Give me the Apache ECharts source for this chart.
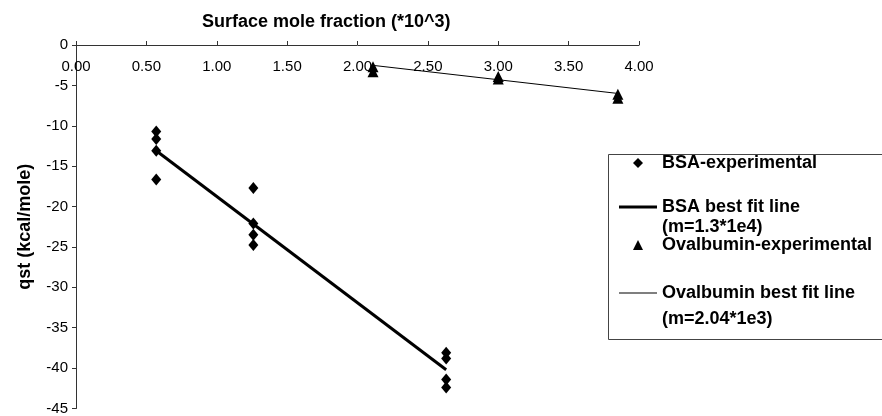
<!DOCTYPE html>
<html>
<head>
<meta charset="utf-8">
<script src="https://cdn.jsdelivr.net/npm/echarts@6/dist/echarts.min.js"></script>
<style>
  html, body { margin: 0; padding: 0; background: #fff; }
  #chart { width: 882px; height: 416px; }
</style>
</head>
<body>
<div id="chart"></div>
<script>
// values
const bsaExp = [
  [0.57, -10.7], [0.57, -11.65], [0.57, -13.1], [0.57, -16.65],
  [1.26, -17.7], [1.26, -22.1], [1.26, -23.5], [1.26, -24.75],
  [2.63, -38.1], [2.63, -38.8], [2.63, -41.4], [2.63, -42.4]
]
const bsaFit = [[0.57, -13.1], [2.63, -40.2]]
const ovaExp = [
  [2.11, -2.7], [2.11, -3.3],
  [3.0, -3.9], [3.0, -4.2],
  [3.85, -6.1], [3.85, -6.6]
]
const ovaFit = [[2.1, -2.5], [3.85, -6.0]]
const legendNames = ['BSA-experimental', 'BSA best fit line', 'Ovalbumin-experimental', 'Ovalbumin best fit line']
const legendSubs = ['', '(m=1.3*1e4)', '', '(m=2.04*1e3)']
const legendIcons = ['diamond', 'rect', 'triangle', 'rect']

const font = 'Liberation Sans, Arial, sans-serif'
const chart = echarts.init(document.getElementById('chart'))

// legend rows, one legend per row so the spacing can follow the picture
const rowY = [163, 207, 245, 293]
const subY = [0, 227, 0, 319]
const iconW = [10, 38, 10, 38]
const iconH = [10, 3, 10, 1]

const legends = legendNames.map((name, i) => ({
  data: [{ name: name, icon: legendIcons[i] }],
  left: 619 + (38 - iconW[i]) / 2,
  top: rowY[i] - 9,
  padding: 0,
  itemWidth: iconW[i],
  itemHeight: iconH[i],
  selectedMode: false,
  textStyle: {
    color: '#000', fontFamily: font, fontWeight: 'bold', fontSize: 18, lineHeight: 18,
    padding: [0, 0, 0, (38 - iconW[i]) / 2]
  }
}))

const subTexts = []
legendSubs.forEach((t, i) => {
  if (!t) return
  subTexts.push({
    type: 'text',
    left: 662,
    top: subY[i] - 9,
    style: { text: t, fill: '#000', font: 'bold 18px ' + font }
  })
})

const options = {
  animation: false,
  backgroundColor: '#fff',
  title: {
    text: 'Surface mole fraction (*10^3)',
    left: 202,
    top: 13,
    padding: 0,
    textStyle: { color: '#000', fontFamily: font, fontWeight: 'bold', fontSize: 18 }
  },
  grid: { left: 76, right: 243, top: 45, bottom: 4 },
  xAxis: {
    type: 'value',
    position: 'top',
    min: 0,
    max: 4,
    interval: 0.5,
    axisLine: { onZero: false, lineStyle: { color: '#333', width: 1 } },
    axisTick: { length: 4, lineStyle: { color: '#333' } },
    axisLabel: {
      inside: true,
      margin: 14,
      color: '#000',
      fontFamily: font,
      fontSize: 15,
      formatter: v => v.toFixed(2)
    },
    splitLine: { show: false }
  },
  yAxis: {
    type: 'value',
    min: -45,
    max: 0,
    interval: 5,
    name: 'qst (kcal/mole)',
    nameLocation: 'middle',
    nameGap: 42,
    nameTextStyle: { color: '#000', fontFamily: font, fontWeight: 'bold', fontSize: 18 },
    axisLine: { onZero: false, lineStyle: { color: '#333', width: 1 } },
    axisTick: { length: 4, lineStyle: { color: '#333' } },
    axisLabel: { margin: 8, color: '#000', fontFamily: font, fontSize: 15 },
    splitLine: { show: false }
  },
  legend: legends,
  graphic: [
    {
      type: 'rect',
      left: 606,
      top: 152,
      shape: { width: 290, height: 185 },
      style: { fill: 'none', stroke: '#444', lineWidth: 1 }
    }
  ].concat(subTexts),
  series: [
    {
      name: legendNames[0],
      type: 'scatter',
      symbol: 'diamond',
      symbolSize: [10, 12],
      itemStyle: { color: '#000', opacity: 1 },
      data: bsaExp
    },
    {
      name: legendNames[1],
      type: 'line',
      symbol: 'none',
      lineStyle: { color: '#000', width: 3 },
      itemStyle: { color: '#000' },
      data: bsaFit
    },
    {
      name: legendNames[2],
      type: 'scatter',
      symbol: 'triangle',
      symbolSize: 11,
      itemStyle: { color: '#000', opacity: 1 },
      data: ovaExp
    },
    {
      name: legendNames[3],
      type: 'line',
      symbol: 'none',
      lineStyle: { color: '#000', width: 1 },
      itemStyle: { color: '#000' },
      data: ovaFit
    }
  ]
}
chart.setOption(options, true)
</script>
</body>
</html>
